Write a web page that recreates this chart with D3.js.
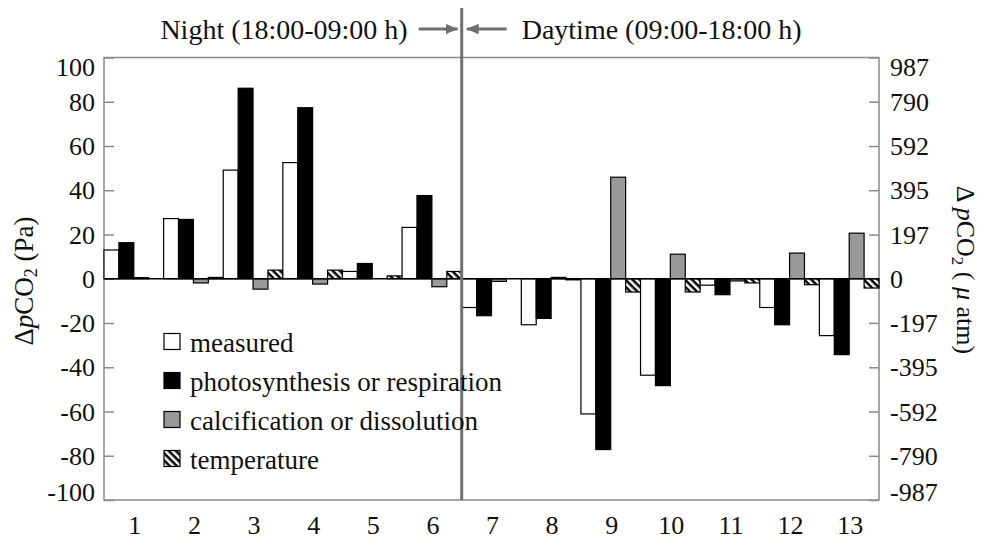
<!DOCTYPE html>
<html>
<head>
<meta charset="utf-8">
<script src="https://cdn.jsdelivr.net/npm/d3@7"></script>
<style>
  body { margin: 0; background: #fff; }
</style>
</head>
<body>
<svg id="chart" width="985" height="552"></svg>
<script>
// categories (sampling runs)
const categories = ["1", "2", "3", "4", "5", "6", "7", "8", "9", "10", "11", "12", "13"];

// ΔpCO2 (Pa)
const measured = [13, 27.2, 49.1, 52.5, 3.3, 23.2, -13, -20.8, -61.1, -43.6, -2.9, -13, -25.7];
const photosynthesis = [16.3, 26.8, 86.1, 77.3, 6.9, 37.6, -16.7, -17.9, -77.2, -48.3, -7.2, -20.8, -34.3];
const calcification = [0.5, -1.9, -4.7, -2.4, 0, -3.6, -1.2, 0.6, 45.9, 11.1, -1.0, 11.6, 20.6];
const temperature = [0, 0.6, 3.9, 3.9, 1.3, 3.3, 0, -0.5, -6.0, -6.0, -1.9, -2.7, -4.2];

const seriesNames = ["measured", "photosynthesis or respiration", "calcification or dissolution", "temperature"];
const seriesValues = [measured, photosynthesis, calcification, temperature];

// tick labels
const leftTicks = [100, 80, 60, 40, 20, 0, -20, -40, -60, -80, -100];
const rightTicks = [987, 790, 592, 395, 197, 0, -197, -395, -592, -790, -987];

const nightLabel = "Night (18:00-09:00 h)";
const dayLabel = "Daytime (09:00-18:00 h)";

const FONT = '"Liberation Serif", "Times New Roman", "Tinos", serif';

const svg = d3.select("#chart");
const margin = { left: 104, right: 106, top: 57.5, bottom: 52 };
const width = 985, height = 552;
const frameColor = "#8a8a8a";
const sepColor = "#707070";
const textColor = "#111";

const x = d3.scaleBand()
    .domain(categories)
    .range([margin.left, width - margin.right])
    .paddingInner(0).paddingOuter(0);

const xSub = d3.scaleBand()
    .domain(d3.range(seriesNames.length))
    .range([0, x.bandwidth()]);

const y = d3.scaleLinear()
    .domain([-100, 100])
    .range([height - margin.bottom, margin.top]);

// µatm axis, same positions (1 Pa ≈ 9.87 µatm)
const yRight = d3.scaleLinear()
    .domain([-987, 987])
    .range(y.range());

// hatch pattern for temperature (stripes running top-left to bottom-right)
const defs = svg.append("defs");
const pat = defs.append("pattern")
    .attr("id", "hatch")
    .attr("patternUnits", "userSpaceOnUse")
    .attr("width", 5).attr("height", 5)
    .attr("patternTransform", "rotate(45)");
pat.append("rect").attr("width", 5).attr("height", 5).attr("fill", "#fff");
pat.append("rect").attr("width", 5).attr("height", 2.5).attr("fill", "#000");

const fills = ["#fff", "#000", "#999", "url(#hatch)"];

// frame
svg.append("rect")
    .attr("x", margin.left).attr("y", margin.top)
    .attr("width", width - margin.left - margin.right)
    .attr("height", height - margin.top - margin.bottom)
    .attr("fill", "none")
    .attr("stroke", frameColor)
    .attr("stroke-width", 1.5);

// left axis (inward ticks)
const leftAxis = svg.append("g")
    .attr("transform", `translate(${margin.left},0)`)
    .call(d3.axisRight(y).tickValues(leftTicks).tickSize(10).tickFormat(""));
leftAxis.select(".domain").remove();
leftAxis.selectAll("line").attr("stroke", frameColor).attr("stroke-width", 1.5);

svg.append("g").selectAll("text")
    .data(leftTicks)
    .join("text")
    .attr("x", 95)
    .attr("y", d => Math.min(Math.max(y(d), 67), 492))
    .attr("dy", "0.35em")
    .attr("text-anchor", "end")
    .attr("font-size", 26)
    .text(d => d);

// right axis (inward ticks)
const rightAxis = svg.append("g")
    .attr("transform", `translate(${width - margin.right},0)`)
    .call(d3.axisLeft(yRight).tickValues(rightTicks).tickSize(10).tickFormat(""));
rightAxis.select(".domain").remove();
rightAxis.selectAll("line").attr("stroke", frameColor).attr("stroke-width", 1.5);

svg.append("g").selectAll("text")
    .data(rightTicks)
    .join("text")
    .attr("x", width - margin.right + 11)
    .attr("y", d => Math.min(Math.max(yRight(d), 67), 492))
    .attr("dy", "0.35em")
    .attr("text-anchor", "start")
    .attr("font-size", 26)
    .text(d => d);

// x labels
svg.append("g").selectAll("text")
    .data(categories)
    .join("text")
    .attr("x", d => x(d) + x.bandwidth() / 2 + 1)
    .attr("y", 534)
    .attr("text-anchor", "middle")
    .attr("font-size", 26)
    .text(d => d);

// bars
const groups = svg.append("g").selectAll("g")
    .data(categories)
    .join("g")
    .attr("transform", d => `translate(${x(d)},0)`);

groups.selectAll("rect")
    .data((d, i) => seriesValues.map((s, k) => ({ k: k, v: s[i] })))
    .join("rect")
    .attr("x", d => xSub(d.k))
    .attr("width", xSub.bandwidth())
    .attr("y", d => y(Math.max(0, d.v)))
    .attr("height", d => Math.abs(y(d.v) - y(0)))
    .attr("fill", d => fills[d.k])
    .attr("stroke", "#000")
    .attr("stroke-width", 1.2);

// zero line
svg.append("line")
    .attr("x1", margin.left).attr("x2", width - margin.right)
    .attr("y1", y(0)).attr("y2", y(0))
    .attr("stroke", "#000")
    .attr("stroke-width", 1.5);

// night / day separator
const sepX = x("7");
svg.append("line")
    .attr("x1", sepX).attr("x2", sepX)
    .attr("y1", 8).attr("y2", y(-100))
    .attr("stroke", sepColor)
    .attr("stroke-width", 3);

defs.append("marker")
    .attr("id", "arrowhead")
    .attr("viewBox", "0 0 10 10")
    .attr("refX", 10).attr("refY", 5)
    .attr("markerWidth", 4).attr("markerHeight", 3.5)
    .attr("markerUnits", "strokeWidth")
    .attr("orient", "auto")
    .attr("preserveAspectRatio", "none")
    .append("path")
    .attr("d", "M0,0 L10,5 L0,10 Z")
    .attr("fill", sepColor);

svg.append("line")
    .attr("x1", sepX - 43).attr("x2", sepX - 4)
    .attr("y1", 29).attr("y2", 29)
    .attr("stroke", sepColor).attr("stroke-width", 3)
    .attr("marker-end", "url(#arrowhead)");

svg.append("line")
    .attr("x1", sepX + 45).attr("x2", sepX + 5)
    .attr("y1", 29).attr("y2", 29)
    .attr("stroke", sepColor).attr("stroke-width", 3)
    .attr("marker-end", "url(#arrowhead)");

svg.append("text")
    .attr("x", sepX - 54).attr("y", 39)
    .attr("text-anchor", "end")
    .attr("font-size", 28)
    .text(nightLabel);

svg.append("text")
    .attr("x", sepX + 60).attr("y", 39)
    .attr("text-anchor", "start")
    .attr("font-size", 28)
    .text(dayLabel);

// axis titles
const leftTitle = svg.append("text")
    .attr("transform", "translate(33,281) rotate(-90)")
    .attr("text-anchor", "middle")
    .attr("font-size", 27);
leftTitle.append("tspan").text("Δ");
leftTitle.append("tspan").attr("font-style", "italic").text("p");
leftTitle.append("tspan").text("CO");
leftTitle.append("tspan").attr("font-size", 18).attr("dy", 4).text("2");
leftTitle.append("tspan").attr("dy", -4).text(" (Pa)");

const rightTitle = svg.append("text")
    .attr("transform", "translate(957,270) rotate(90)")
    .attr("text-anchor", "middle")
    .attr("font-size", 26);
rightTitle.append("tspan").text("Δ ");
rightTitle.append("tspan").attr("font-style", "italic").text("p");
rightTitle.append("tspan").text("CO");
rightTitle.append("tspan").attr("font-size", 17).attr("dy", 5).text("2");
rightTitle.append("tspan").attr("dy", -5).text(" ( ");
rightTitle.append("tspan").attr("font-style", "italic").text("μ");
rightTitle.append("tspan").text(" atm)");

// legend
const legend = svg.append("g")
    .selectAll("g")
    .data(seriesNames)
    .join("g")
    .attr("transform", (d, i) => `translate(164,${341.5 + i * 39})`);

legend.append("rect")
    .attr("x", 0).attr("y", -8)
    .attr("width", 16).attr("height", 16)
    .attr("fill", (d, i) => fills[i])
    .attr("stroke", "#000")
    .attr("stroke-width", 1.2);

legend.append("text")
    .attr("x", 26).attr("y", 10)
    .attr("font-size", 27)
    .text(d => d);

// font + colour on every text and tspan
svg.selectAll("text, tspan")
    .style("font-family", FONT)
    .style("fill", textColor);
</script>
</body>
</html>
